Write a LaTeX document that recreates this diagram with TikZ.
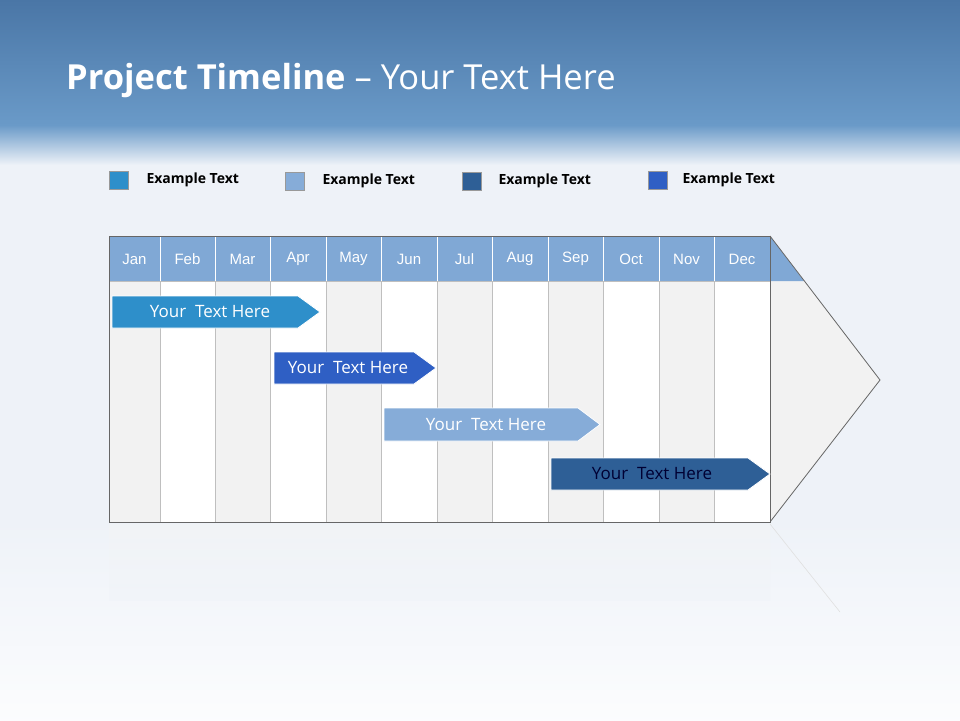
\documentclass[tikz,border=0pt]{standalone}
\usepackage{fontspec}
\setmainfont{Open Sans}
\newfontfamily\arialf{Liberation Sans}
\begin{document}
\begin{tikzpicture}[x=1pt,y=-1pt,
  hdr/.style={fill=hdrc,draw=white,line width=0.6pt},
  col/.style={draw=black!25,line width=0.4pt},
  mon/.style={text=white,font=\arialf\fontsize{15}{17}\selectfont},
  bar/.style={draw=white,line width=0.8pt},
  bartxt/.style={font=\fontsize{17}{19}\selectfont},
  leg/.style={draw=black!40,line width=0.4pt},
  legtxt/.style={anchor=west,font=\bfseries\fontsize{14}{16}\selectfont}]
\definecolor{hdrc}{HTML}{80A8D5}
\definecolor{cA}{HTML}{2E8FCA}
\definecolor{cB}{HTML}{86ACD8}
\definecolor{cC}{HTML}{2E5F96}
\definecolor{cD}{HTML}{2F5FC4}
\definecolor{topc}{HTML}{4A76A6}
\definecolor{midc}{HTML}{6A9AC8}
\definecolor{bgc}{HTML}{EEF2F8}
\useasboundingbox (0,0) rectangle (960,720);
\fill[bgc] (0,0) rectangle (960,720);
\shade[top color=topc,bottom color=midc] (0,0) rectangle (960,125);
\shade[top color=midc,bottom color=bgc] (0,125) rectangle (960,165);
\shade[top color=bgc,bottom color=white!80!bgc] (0,520) rectangle (960,720);
\node[anchor=west,text=white,font=\fontsize{34.5}{40}\selectfont,inner sep=0pt] (title) at (66,81) {\textbf{Project Timeline} -- Your Text Here};
% legend
\fill[cA,leg] (109,171) rectangle (128,189); \node[legtxt] (l1) at (143,180) {Example Text};
\fill[cB,leg] (285,172) rectangle (304,190); \node[legtxt] (l2) at (319,181) {Example Text};
\fill[cC,leg] (462,172) rectangle (481,190); \node[legtxt] (l3) at (495,181) {Example Text};
\fill[cD,leg] (648,171) rectangle (667,189); \node[legtxt] (l4) at (679,180) {Example Text};
% grid
\fill[black!5] (770,236) -- (880,380) -- (770,522) -- cycle;
\fill[hdrc] (770,236) -- (804,281) -- (770,281) -- cycle;
\draw[black!60,line width=0.8pt] (770,236) -- (880,380) -- (770,522);
\foreach \a/\b/\m/\g in {109/160/Jan/1,160/215/Feb/0,215/270/Mar/1,270/326/Apr/0,326/381/May/1,381/437/Jun/0,437/492/Jul/1,492/548/Aug/0,548/603/Sep/1,603/659/Oct/0,659/714/Nov/1,714/770/Dec/0}{
  \ifnum\g=1 \fill[black!5] (\a,281) rectangle (\b,522); \else \fill[white] (\a,281) rectangle (\b,522);\fi
  \draw[col] (\a,281) rectangle (\b,522);
  \fill[hdrc] (\a,236) rectangle (\b,281);
  \draw[white,line width=0.6pt] (\a,236) -- (\a,281);
  \node[mon] (m\m) at ({(\a+\b)/2},259) {\m};
}
\draw[black!60,line width=0.8pt] (109,236) -- (770,236) (109,236) -- (109,522) -- (770,522) -- (770,236);
% reflection
\draw[black!12,line width=0.6pt] (770,524) -- (840,612);
\shade[top color=black!4,bottom color=bgc,opacity=0.4] (109,524) rectangle (770,600);
% bars
\fill[cA,bar] (112,296) -- (298,296) -- (320,312) -- (298,328) -- (112,328) -- cycle;
\node[bartxt,text=white] (b1) at (210,312) {Your~ Text Here};
\fill[cD,bar] (274,352) -- (414,352) -- (436,368) -- (414,384) -- (274,384) -- cycle;
\node[bartxt,text=white] (b2) at (348,368) {Your~ Text Here};
\fill[cB,bar] (384,408) -- (578,408) -- (600,424.5) -- (578,441) -- (384,441) -- cycle;
\node[bartxt,text=white] (b3) at (486,424.5) {Your~ Text Here};
\fill[cC,bar] (551,458) -- (748,458) -- (770,474) -- (748,490) -- (551,490) -- cycle;
\node[bartxt,text=black!80!blue] (b4) at (652,474) {Your~ Text Here};
\end{tikzpicture}
\end{document}
